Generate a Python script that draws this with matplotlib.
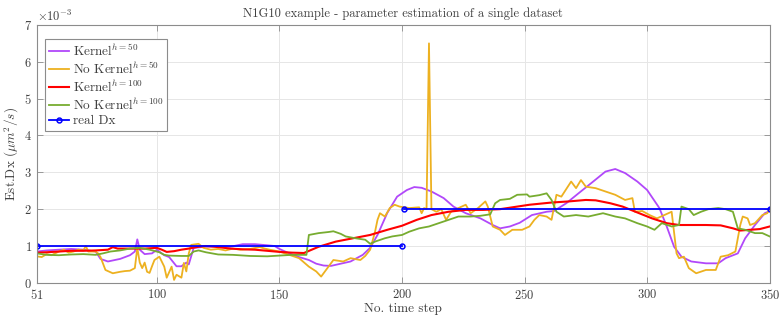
import matplotlib
matplotlib.use("Agg")
import matplotlib.pyplot as plt

# Kernel h=50 (purple)
t_k50 = [51, 55, 60, 65, 70, 75, 77, 80, 85, 89, 91, 92, 93, 95, 98, 100, 103, 105, 108, 110,
         112, 113, 115, 120, 125, 130, 135, 140, 145, 148, 150, 154, 158, 162, 165, 168, 171, 173,
         179, 184, 187, 190, 194, 198, 202, 205, 208, 212, 217, 221, 226, 232, 237, 240, 244, 248,
         253, 259, 262, 267, 272, 278, 283, 287, 291, 296, 300, 305, 308, 311, 314, 318, 324, 329,
         332, 337, 340, 344, 348, 350]
k50 = [0.85, 0.88, 0.9, 0.92, 0.9, 0.85, 0.65, 0.58, 0.65, 0.75, 0.85, 1.18, 0.9, 0.78, 0.8, 0.9,
       0.75, 0.7, 0.45, 0.45, 0.55, 0.5, 0.95, 0.98, 1.0, 0.98, 1.05, 1.05, 1.02, 1.0, 0.92, 0.8,
       0.7, 0.62, 0.52, 0.47, 0.46, 0.49, 0.58, 0.76, 0.95, 1.3, 1.9, 2.34, 2.52, 2.6, 2.58, 2.48,
       2.3, 2.07, 1.89, 1.75, 1.57, 1.48, 1.53, 1.63, 1.84, 1.93, 1.95, 2.16, 2.43, 2.75, 3.02,
       3.09, 2.98, 2.75, 2.52, 2.03, 1.53, 0.98, 0.71, 0.58, 0.53, 0.53, 0.67, 0.8, 1.21, 1.57,
       1.89, 1.95]

# No Kernel h=50 (orange)
t_nk50 = [51, 53, 55, 57, 60, 62, 64, 66, 68, 70, 71, 72, 75, 76, 77, 79, 82, 85, 87, 89, 91, 92,
          93, 94, 95, 96, 97, 98, 99, 101, 103, 104, 106, 107, 108, 110, 111, 112, 113, 114, 117,
          119, 122, 125, 128, 131, 134, 138, 142, 144, 146, 150, 154, 158, 162, 165, 167, 169, 172,
          176, 179, 183, 185, 187, 189, 190, 191, 193, 195, 197, 199, 203, 207, 208, 209, 210, 211,
          212, 214, 216, 218, 220, 223, 226, 228, 231, 234, 235, 237, 240, 242, 245, 249, 252, 254,
          256, 259, 261, 263, 265, 269, 271, 273, 275, 279, 283, 287, 291, 294, 295, 298, 301, 304,
          307, 310, 312, 313, 315, 317, 320, 324, 328, 330, 333, 336, 338, 339, 341, 342, 344, 347,
          349, 350]
nk50 = [0.72, 0.7, 0.78, 0.75, 0.85, 0.9, 0.82, 0.85, 0.9, 0.88, 1.0, 0.85, 0.85, 0.8, 0.7, 0.35,
        0.26, 0.3, 0.32, 0.33, 0.4, 0.95, 0.55, 0.4, 0.55, 0.3, 0.27, 0.45, 0.62, 0.71, 0.44, 0.14,
        0.44, 0.08, 0.22, 0.14, 0.54, 0.31, 0.8, 1.03, 1.06, 0.95, 0.9, 0.92, 0.88, 0.93, 0.9, 0.92,
        0.97, 0.93, 0.9, 0.85, 0.76, 0.67, 0.44, 0.31, 0.17, 0.35, 0.62, 0.58, 0.67, 0.62, 0.73,
        0.9, 1.39, 1.71, 1.89, 1.8, 2.03, 2.12, 2.07, 2.03, 2.05, 1.89, 2.03, 2.0, 6.5, 2.0, 1.93,
        2.0, 1.71, 1.93, 2.03, 2.12, 1.89, 2.03, 2.21, 2.07, 1.53, 1.44, 1.3, 1.44, 1.44, 1.53,
        1.71, 1.84, 1.8, 1.71, 2.39, 2.34, 2.75, 2.57, 2.79, 2.61, 2.57, 2.48, 2.39, 2.25, 2.3,
        1.93, 1.95, 1.84, 1.75, 1.84, 1.93, 0.8, 0.67, 0.71, 0.4, 0.26, 0.35, 0.35, 0.71, 0.75,
        0.85, 1.57, 1.8, 1.75, 1.57, 1.62, 1.84, 1.89, 2.0]

# Kernel h=100 (red)
t_k100 = [51, 55, 60, 65, 70, 75, 80, 82, 84, 90, 95, 100, 102, 104, 107, 110, 113, 117, 120, 125,
          130, 135, 140, 145, 150, 155, 160, 166, 173, 180, 187, 194, 200, 206, 212, 219, 226, 233,
          240, 247, 252, 255, 261, 268, 275, 279, 285, 290, 296, 302, 308, 313, 319, 324, 330, 335,
          338, 342, 346, 350]
k100 = [0.82, 0.83, 0.85, 0.87, 0.87, 0.88, 0.9, 0.97, 0.93, 0.93, 0.93, 0.95, 0.9, 0.84, 0.86,
        0.9, 0.93, 0.98, 1.0, 0.97, 0.93, 0.91, 0.9, 0.87, 0.84, 0.82, 0.81, 0.98, 1.12, 1.21, 1.3,
        1.44, 1.55, 1.71, 1.84, 1.93, 1.98, 1.98, 2.0, 2.07, 2.12, 2.14, 2.18, 2.21, 2.25, 2.24,
        2.16, 2.07, 1.91, 1.75, 1.62, 1.57, 1.57, 1.57, 1.56, 1.48, 1.42, 1.44, 1.46, 1.53]

# No Kernel h=100 (green)
t_nk100 = [51, 55, 60, 65, 70, 75, 78, 81, 85, 89, 93, 97, 101, 103, 105, 110, 113, 115, 117, 120,
           125, 131, 138, 145, 150, 155, 161, 162, 166, 170, 172, 175, 177, 181, 185, 187, 189, 193,
           196, 200, 203, 207, 211, 215, 219, 223, 228, 232, 236, 238, 240, 244, 247, 251, 252, 256,
           259, 261, 263, 266, 271, 276, 282, 287, 291, 296, 300, 303, 306, 310, 313, 314, 317, 319,
           322, 325, 329, 332, 335, 337, 340, 344, 347, 350]
nk100 = [0.8, 0.76, 0.75, 0.77, 0.78, 0.76, 0.8, 0.85, 0.88, 0.93, 0.95, 0.9, 0.83, 0.76, 0.74,
         0.73, 0.73, 0.85, 0.88, 0.83, 0.77, 0.76, 0.73, 0.72, 0.74, 0.76, 0.76, 1.3, 1.35, 1.38,
         1.4, 1.33, 1.26, 1.21, 1.17, 1.06, 1.12, 1.21, 1.26, 1.3, 1.39, 1.48, 1.53, 1.62, 1.71,
         1.8, 1.8, 1.82, 1.86, 2.16, 2.25, 2.28, 2.39, 2.4, 2.34, 2.38, 2.43, 2.25, 1.93, 1.8, 1.84,
         1.8, 1.89, 1.8, 1.75, 1.62, 1.53, 1.44, 1.62, 1.53, 1.57, 2.07, 2.0, 1.84, 1.93, 2.0,
         2.03, 2.0, 1.93, 1.48, 1.44, 1.35, 1.35, 1.26]

# real Dx (two segments)
t_real1 = [51, 200]
real1 = [1.0, 1.0]
t_real2 = [201, 350]
real2 = [2.0, 2.0]

x_ticks = [51, 100, 150, 200, 250, 300, 350]

plt.rcParams['font.family'] = 'cmr10'
plt.rcParams['mathtext.fontset'] = 'cm'
plt.rcParams['axes.formatter.use_mathtext'] = True

fig = plt.figure(figsize=(7.83, 3.24), dpi=100)
ax = fig.add_axes([0.047, 0.127, 0.936, 0.796])

sc = 1e-3
ax.plot(t_k50, [v * sc for v in k50], color='#B148FA', lw=1.3, label='Kernel$^{h=50}$')
ax.plot(t_nk50, [v * sc for v in nk50], color='#EDB120', lw=1.3, label='No Kernel$^{h=50}$')
ax.plot(t_k100, [v * sc for v in k100], color='#FF0000', lw=1.5, label='Kernel$^{h=100}$')
ax.plot(t_nk100, [v * sc for v in nk100], color='#77AC30', lw=1.3, label='No Kernel$^{h=100}$')
ax.plot(t_real1, [v * sc for v in real1], color='#0000FF', lw=1.3, marker='o', ms=3.5,
        mfc='none', mew=1.1, label='real Dx')
ax.plot(t_real2, [v * sc for v in real2], color='#0000FF', lw=1.3, marker='o', ms=3.5,
        mfc='none', mew=1.1)

ax.set_xlim(51, 350)
ax.set_ylim(0, 7e-3)
ax.set_xticks(x_ticks)
ax.set_yticks([i * sc for i in range(8)])
ax.ticklabel_format(axis='y', style='sci', scilimits=(-3, -3))
ax.grid(True, color='#e6e6e6', lw=0.7)
ax.set_axisbelow(True)

tc = '#404040'
for s in ax.spines.values():
    s.set_color('#8c8c8c')
    s.set_linewidth(0.8)
ax.tick_params(direction='in', top=True, right=True, length=4, width=0.6,
               color='#8c8c8c', labelcolor=tc, labelsize=9)
ax.yaxis.get_offset_text().set_fontsize(9)
ax.yaxis.get_offset_text().set_color(tc)

ax.set_title('N1G10 example - parameter estimation of a single dataset', fontsize=9, color=tc)
ax.set_xlabel('No. time step', fontsize=9.5, color=tc, labelpad=1)
ax.set_ylabel(r'Est.Dx $(\mu m^2/s)$', fontsize=9.5, color=tc, labelpad=2)

leg = ax.legend(loc='upper left', bbox_to_anchor=(0.011, 0.946), borderaxespad=0,
                fancybox=False, framealpha=1, edgecolor='#8c8c8c', fontsize=9.5,
                handlelength=1.5, handletextpad=0.3, labelspacing=0.15, borderpad=0.3)
leg.get_frame().set_linewidth(0.8)
for txt in leg.get_texts():
    txt.set_color(tc)

fig.savefig('out.png', dpi=100)
